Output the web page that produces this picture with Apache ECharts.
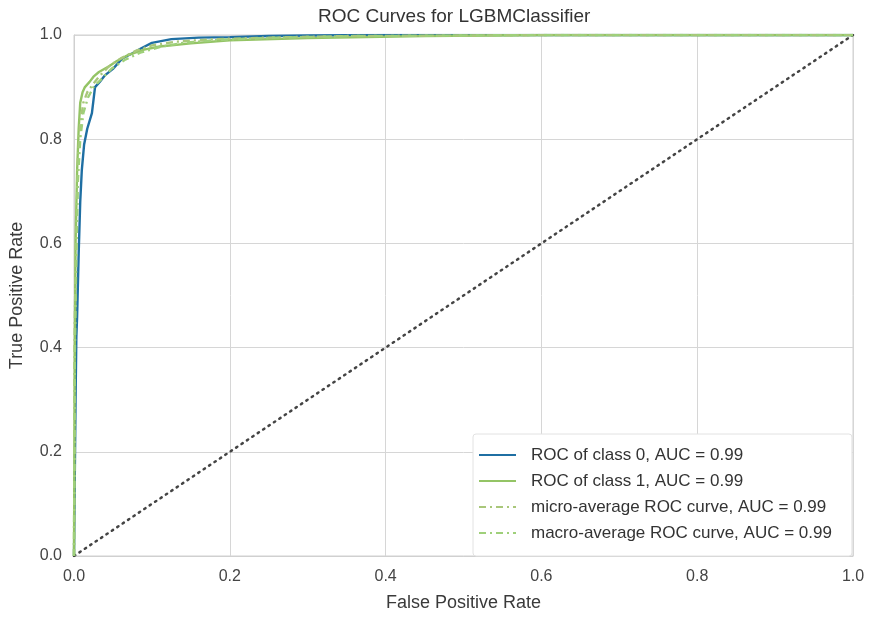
<!DOCTYPE html>
<html>
<head>
<meta charset="utf-8">
<script src="https://cdn.jsdelivr.net/npm/echarts@6/dist/echarts.min.js"></script>
<style>
  html, body { margin: 0; padding: 0; background: #fff; }
  #roc_chart { width: 869px; height: 617px; }
</style>
</head>
<body>
<div id="roc_chart"></div>
<script>
// values
var seriesNames = [
    'ROC of class 0, AUC = 0.99',
    'ROC of class 1, AUC = 0.99',
    'micro-average ROC curve, AUC = 0.99',
    'macro-average ROC curve, AUC = 0.99'
];
var tickLabels = ['0.0', '0.2', '0.4', '0.6', '0.8', '1.0'];

var class0Fpr = [0, 0.002, 0.003, 0.004, 0.006, 0.008, 0.010, 0.013, 0.017, 0.023, 0.027, 0.033, 0.040, 0.050, 0.062, 0.075, 0.087, 0.100, 0.125, 0.16, 0.2, 0.25, 0.3, 0.4, 0.6, 1.0];
var class0Tpr = [0, 0.30, 0.42, 0.46, 0.58, 0.68, 0.74, 0.79, 0.82, 0.85, 0.90, 0.91, 0.923, 0.935, 0.955, 0.965, 0.975, 0.985, 0.992, 0.995, 0.996, 0.998, 0.999, 1.0, 1.0, 1.0];

var class1Fpr = [0, 0.001, 0.002, 0.004, 0.006, 0.008, 0.011, 0.014, 0.020, 0.025, 0.032, 0.045, 0.055, 0.07, 0.09, 0.11, 0.15, 0.2, 0.3, 0.45, 0.6, 1.0];
var class1Tpr = [0, 0.40, 0.60, 0.74, 0.82, 0.87, 0.89, 0.90, 0.91, 0.92, 0.929, 0.94, 0.95, 0.962, 0.972, 0.978, 0.984, 0.99, 0.994, 0.998, 1.0, 1.0];

var microFpr = [0, 0.001, 0.003, 0.005, 0.008, 0.012, 0.017, 0.024, 0.032, 0.045, 0.06, 0.08, 0.1, 0.13, 0.18, 0.25, 0.35, 0.5, 0.62, 1.0];
var microTpr = [0, 0.45, 0.62, 0.76, 0.83, 0.87, 0.89, 0.905, 0.92, 0.94, 0.955, 0.97, 0.98, 0.987, 0.992, 0.995, 0.998, 0.999, 1.0, 1.0];

var macroFpr = [0, 0.001, 0.003, 0.005, 0.008, 0.012, 0.018, 0.025, 0.035, 0.048, 0.065, 0.085, 0.11, 0.14, 0.19, 0.26, 0.36, 0.5, 0.6, 1.0];
var macroTpr = [0, 0.38, 0.58, 0.72, 0.80, 0.85, 0.88, 0.90, 0.915, 0.935, 0.952, 0.966, 0.977, 0.985, 0.991, 0.995, 0.998, 0.999, 1.0, 1.0];

var chanceX = [0, 1];
var chanceY = [0, 1];

function pairs(xs, ys) {
    return xs.map(function (x, i) { return [x, ys[i]]; });
}

var ROC_CHART = echarts.init(document.querySelector('#roc_chart'));
var FONT = '"Liberation Sans", Arial, sans-serif';
var axisCommon = {
    type: 'value',
    min: 0,
    max: 1,
    interval: 0.2,
    nameLocation: 'middle',
    nameTextStyle: { fontFamily: FONT, fontSize: 18, color: '#3a3a3a' },
    axisLine: { show: true, lineStyle: { color: '#d0d0d0' } },
    axisTick: { show: false },
    axisLabel: {
        fontFamily: FONT, fontSize: 16, color: '#444',
        formatter: function (v) { return tickLabels[Math.round(v / 0.2)]; }
    },
    splitLine: { show: true, lineStyle: { color: '#d6d6d6', width: 1 } }
};

ROC_CHART.setOption({
    animation: false,
    backgroundColor: '#fff',
    title: {
        text: 'ROC Curves for LGBMClassifier',
        left: 313,
        top: 2,
        textStyle: { fontFamily: FONT, fontSize: 19, fontWeight: 'normal', color: '#333' }
    },
    grid: { left: 72, right: 16, top: 35, bottom: 59, show: true, borderColor: '#d0d0d0', borderWidth: 1 },
    legend: {
        data: seriesNames,
        orient: 'vertical',
        left: 473,
        top: 434,
        padding: [11, 20, 13, 5],
        itemWidth: 37,
        itemHeight: 10,
        itemGap: 6,
        backgroundColor: '#fff',
        borderColor: '#e2e2e2',
        borderWidth: 1,
        borderRadius: 3,
        itemStyle: { opacity: 0 },
        textStyle: { fontFamily: FONT, fontSize: 17, color: '#333', lineHeight: 20, padding: [0, 0, 0, 10] }
    },
    xAxis: Object.assign({}, axisCommon, {
        name: 'False Positive Rate', nameGap: 38,
        axisLabel: Object.assign({}, axisCommon.axisLabel, { margin: 13 })
    }),
    yAxis: Object.assign({}, axisCommon, {
        name: 'True Positive Rate', nameGap: 48,
        axisLabel: Object.assign({}, axisCommon.axisLabel, { margin: 12 })
    }),
    series: [
        {
            name: seriesNames[0], type: 'line', symbol: 'none',
            data: pairs(class0Fpr, class0Tpr),
            lineStyle: { color: '#1f6fa3', width: 2.4 },
            itemStyle: { color: '#1f6fa3' }
        },
        {
            name: seriesNames[1], type: 'line', symbol: 'none',
            data: pairs(class1Fpr, class1Tpr),
            lineStyle: { color: '#94c465', width: 2.4 },
            itemStyle: { color: '#94c465' }
        },
        {
            name: seriesNames[2], type: 'line', symbol: 'none',
            data: pairs(microFpr, microTpr),
            lineStyle: { color: '#a9c77a', width: 2.4, type: [7, 4, 2, 4] },
            itemStyle: { color: '#a9c77a' }
        },
        {
            name: seriesNames[3], type: 'line', symbol: 'none',
            data: pairs(macroFpr, macroTpr),
            lineStyle: { color: '#9fd07a', width: 2.4, type: [7, 4, 2, 4] },
            itemStyle: { color: '#9fd07a' }
        },
        {
            name: 'chance', type: 'line', symbol: 'none',
            data: pairs(chanceX, chanceY),
            lineStyle: { color: '#444', width: 2.5, type: [1.5, 5], cap: 'round' },
            z: 1
        }
    ]
});
</script>
</body>
</html>
